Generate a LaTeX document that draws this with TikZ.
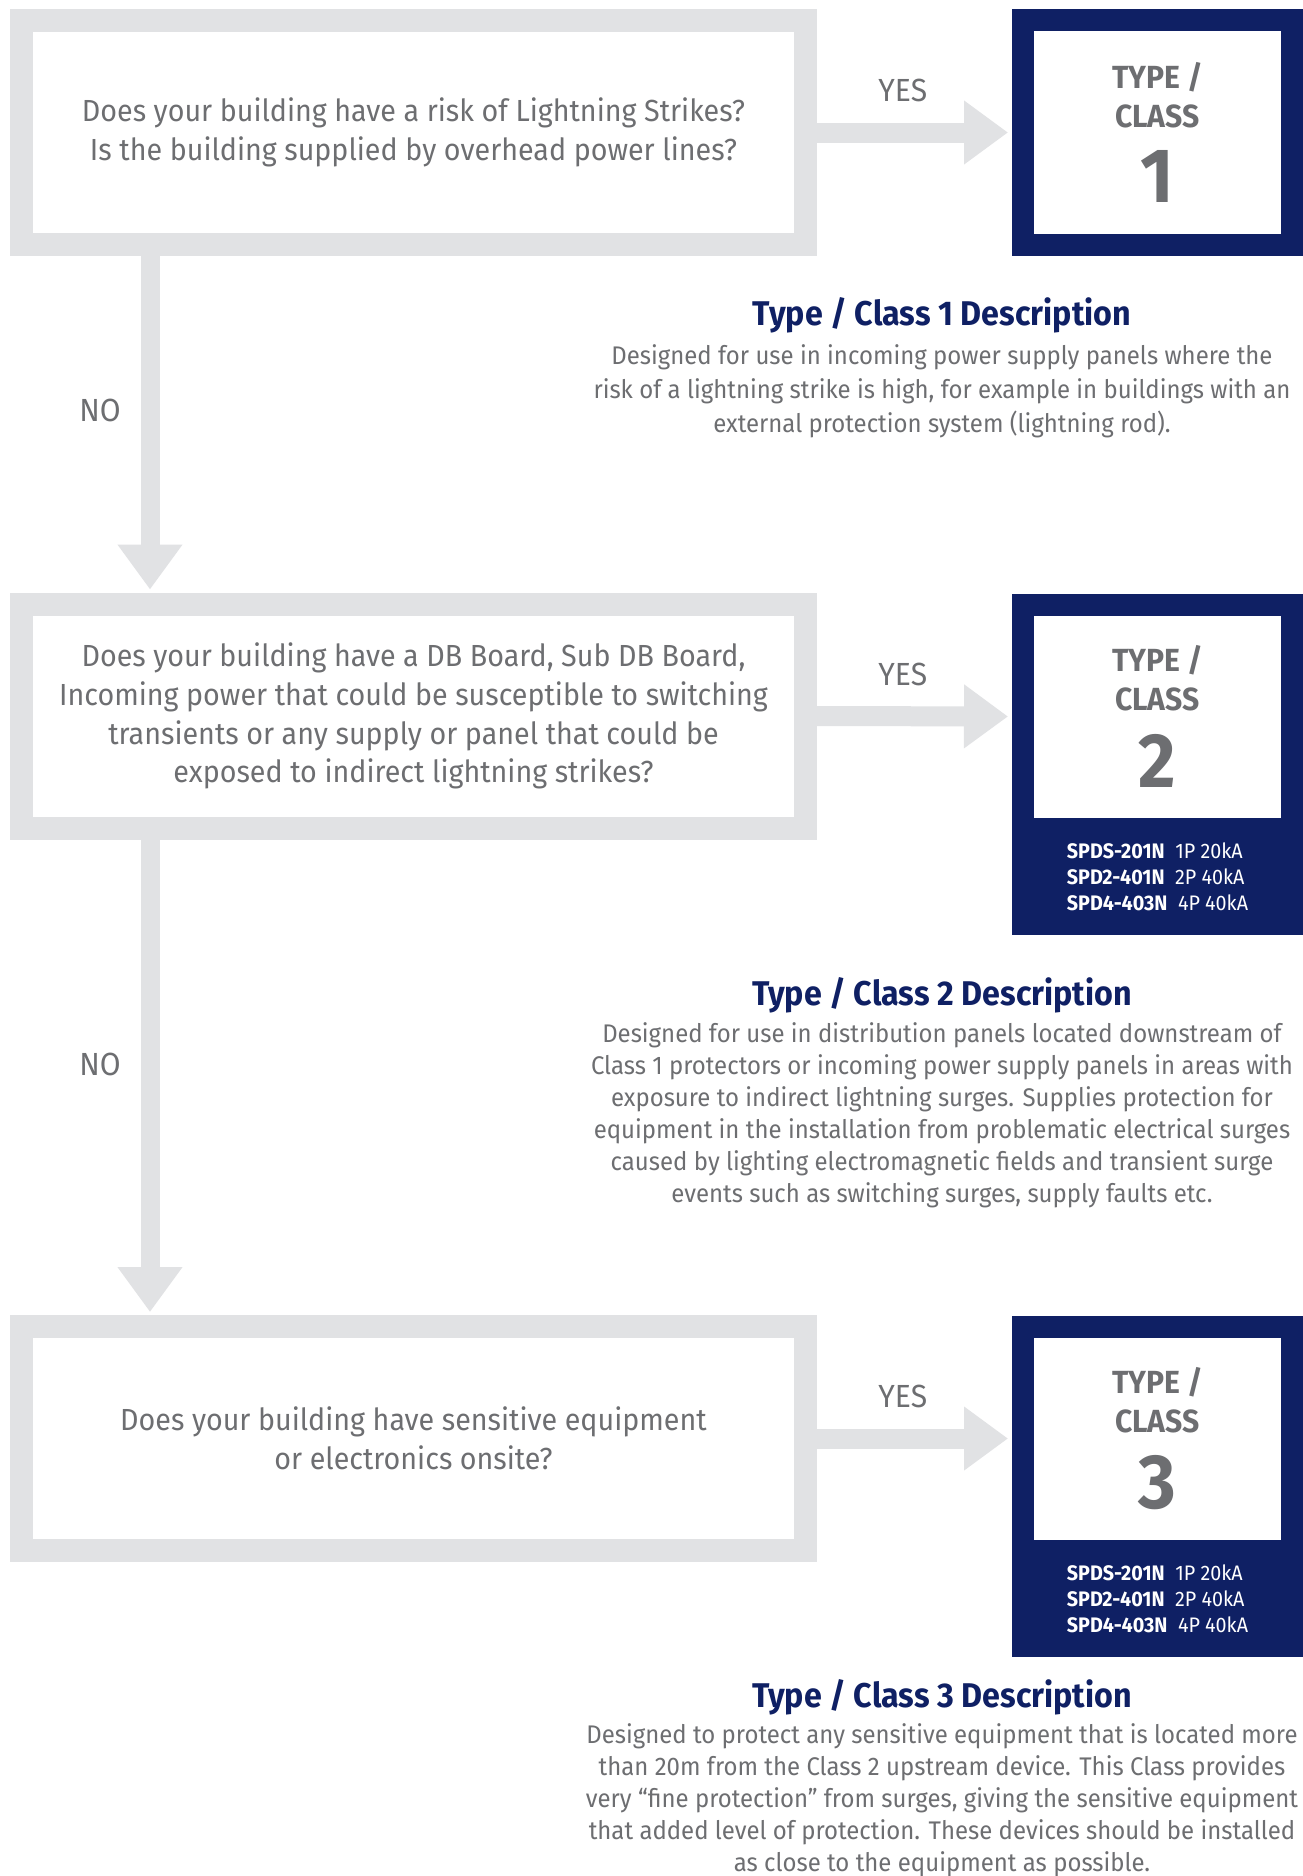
\documentclass[tikz,border=0pt]{standalone}
\usepackage{fontspec}
\setmainfont[FakeStretch=0.94]{Fira Sans}
\usetikzlibrary{arrows.meta,positioning,calc}
\definecolor{panelgrey}{RGB}{225,226,228}
\definecolor{textgrey}{RGB}{109,110,113}
\definecolor{classnavy}{RGB}{15,32,100}

\tikzset{
  question/.style={rectangle, draw=panelgrey, line width=23pt, fill=white,
    minimum width=784pt, minimum height=224pt, align=center, text=textgrey,
    font=\fontsize{30.5}{38.7}\selectfont},
  classbox/.style={rectangle, draw=classnavy, line width=22pt, fill=white,
    minimum width=269pt, minimum height=224pt, inner sep=0pt, align=center,
    text=textgrey, font=\fontsize{32}{39}\selectfont\bfseries},
  listbox/.style={rectangle, fill=classnavy, minimum width=291pt,
    minimum height=95pt, inner sep=0pt, outer sep=0pt},
  spdtext/.style={align=left, text=white, font=\fontsize{21}{26}\selectfont},
  answer/.style={text=textgrey, font=\fontsize{32}{38}\selectfont},
  yesarrow/.style={draw=panelgrey, line width=20pt, shorten >=4pt,
    -{Triangle[width=61pt, length=44pt]}},
  noarrow/.style={draw=panelgrey, line width=19pt, shorten >=3pt,
    -{Triangle[width=62pt, length=45pt]}},
  desctitle/.style={text=classnavy, font=\fontsize{34.3}{38}\selectfont\bfseries},
  desctext/.style={align=center, text=textgrey, font=\fontsize{25.5}{32}\selectfont}
}

\begin{document}
\begin{tikzpicture}[x=1pt, y=-1pt]
  \useasboundingbox[fill=white] (0,0) rectangle (1303,1876);

  % Question 1
  \node[question] (q1) at (413.5,132.5) {Does your building have a risk of Lightning Strikes?\\
    Is the building supplied by overhead power lines?};
  \node[classbox] (type1) at (1157.5,132.5) {TYPE /\\CLASS\\[21.5pt]{\fontsize{77}{77}\selectfont 1}};
  \draw[yesarrow] (q1.east) -- (type1.west) node[answer, pos=.44, yshift=42pt] {YES};

  % Description 1
  \node[desctitle] (d1title) at (942,315) {Type / Class 1 Description};
  \node[desctext, font=\fontsize{25.5}{34}\selectfont] (d1text) at (942,391) {Designed for use in incoming power supply panels where the\\
    risk of a lightning strike is high, for example in buildings with an\\
    external protection system (lightning rod).};

  % Question 2
  \node[question] (q2) at (413.5,716) {Does your building have a DB Board, Sub DB Board,\\
    Incoming power that could be susceptible to switching\\
    transients or any supply or panel that could be\\
    exposed to indirect lightning strikes?};
  \node[classbox] (type2) at (1157.5,716.5) {TYPE /\\CLASS\\[21.5pt]{\fontsize{77}{77}\selectfont 2}};
  \node[listbox, below=0pt of type2] (list2) {};
  \node[spdtext] (spd2) at ([yshift=10pt]list2.center) {\textbf{SPDS-201N}\enspace 1P 20kA\\
    \textbf{SPD2-401N}\enspace 2P 40kA\\
    \textbf{SPD4-403N}\enspace 4P 40kA};
  \draw[yesarrow] (q2.east) -- (type2.west) node[answer, pos=.44, yshift=42pt] {YES};
  \draw[noarrow] ([xshift=140pt]q1.south west) -- ([xshift=140pt]q2.north west)
    node[answer, pos=.458, xshift=-50pt] {NO};

  % Description 2
  \node[desctitle] (d2title) at (942,995) {Type / Class 2 Description};
  \node[desctext] (d2text) at (942,1115.5) {Designed for use in distribution panels located downstream of\\
    Class 1 protectors or incoming power supply panels in areas with\\
    exposure to indirect lightning surges. Supplies protection for\\
    equipment in the installation from problematic electrical surges\\
    caused by lighting electromagnetic fields and transient surge\\
    events such as switching surges, supply faults etc.};

  % Question 3
  \node[question] (q3) at (413.5,1438.5) {Does your building have sensitive equipment\\
    or electronics onsite?};
  \node[classbox] (type3) at (1157.5,1438.5) {TYPE /\\CLASS\\[21.5pt]{\fontsize{77}{77}\selectfont 3}};
  \node[listbox, below=0pt of type3] (list3) {};
  \node[spdtext] (spd3) at ([yshift=10pt]list3.center) {\textbf{SPDS-201N}\enspace 1P 20kA\\
    \textbf{SPD2-401N}\enspace 2P 40kA\\
    \textbf{SPD4-403N}\enspace 4P 40kA};
  \draw[yesarrow] (q3.east) -- (type3.west) node[answer, pos=.44, yshift=42pt] {YES};
  \draw[noarrow] ([xshift=140pt]q2.south west) -- ([xshift=140pt]q3.north west)
    node[answer, pos=.474, xshift=-50pt] {NO};

  % Description 3
  \node[desctitle] (d3title) at (942,1697) {Type / Class 3 Description};
  \node[desctext] (d3text) at (942,1800.5) {Designed to protect any sensitive equipment that is located more\\
    than 20m from the Class 2 upstream device. This Class provides\\
    very “fine protection” from surges, giving the sensitive equipment\\
    that added level of protection. These devices should be installed\\
    as close to the equipment as possible.};
\end{tikzpicture}
\end{document}
